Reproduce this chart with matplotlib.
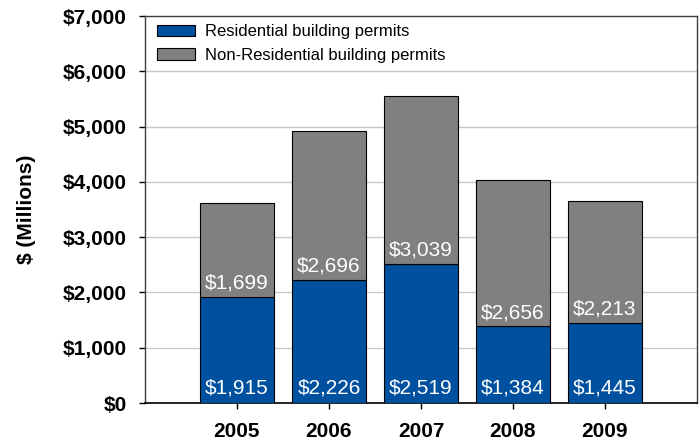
import numpy as np
import matplotlib.pyplot as plt

years = ['2005', '2006', '2007', '2008', '2009']
residential = [1915, 2226, 2519, 1384, 1445]
non_residential = [1699, 2696, 3039, 2656, 2213]

plt.rcParams['font.family'] = ['Liberation Sans', 'DejaVu Sans']

blue = '#0050A0'
gray = '#808080'

fig = plt.figure(figsize=(6.99, 4.42), dpi=100)
ax = fig.add_axes([0.2074, 0.0882, 0.7897, 0.8756])

x = np.arange(len(years))
b1 = ax.bar(x, residential, width=0.8, color=blue, edgecolor='black',
            linewidth=0.8, label='Residential building permits', zorder=3)
b2 = ax.bar(x, non_residential, width=0.8, bottom=residential, color=gray,
            edgecolor='black', linewidth=0.8,
            label='Non-Residential building permits', zorder=3)

# value labels sit at the bottom of each segment
for i in range(len(years)):
    ax.annotate('${:,}'.format(residential[i]), (x[i], 0),
                xytext=(0, 4), textcoords='offset points',
                ha='center', va='bottom', color='white', fontsize=15, zorder=4)
    ax.annotate('${:,}'.format(non_residential[i]), (x[i], residential[i]),
                xytext=(0, 3), textcoords='offset points',
                ha='center', va='bottom', color='white', fontsize=15, zorder=4)

ax.set_xlim(-1, 5)
ax.set_ylim(0, 7000)
ax.set_xticks(x)
ax.set_xticklabels(years, fontsize=15, fontweight='bold')
ax.set_yticks(np.arange(0, 7001, 1000))
ax.set_yticklabels(['${:,}'.format(v) for v in range(0, 7001, 1000)],
                   fontsize=15, fontweight='bold')
ax.tick_params(axis='y', direction='out', length=4, width=1, pad=9)
ax.tick_params(axis='x', direction='out', length=4, width=1, pad=10)
ax.set_ylabel('$ (Millions)', fontsize=15, fontweight='bold', labelpad=19)

ax.grid(True, axis='y', color='#C8C8C8', lw=1, zorder=0)
for side in ['top', 'right', 'left']:
    ax.spines[side].set_color('#404040')
    ax.spines[side].set_linewidth(1)
ax.spines['bottom'].set_color('black')
ax.spines['bottom'].set_linewidth(1.2)

ax.legend(loc='upper left', frameon=False, fontsize=12, handlelength=2.3,
          handleheight=0.7, handletextpad=0.6, labelspacing=0.5,
          borderaxespad=0.1, bbox_to_anchor=(0.006, 1.0))

fig.savefig('out.png', dpi=100)
